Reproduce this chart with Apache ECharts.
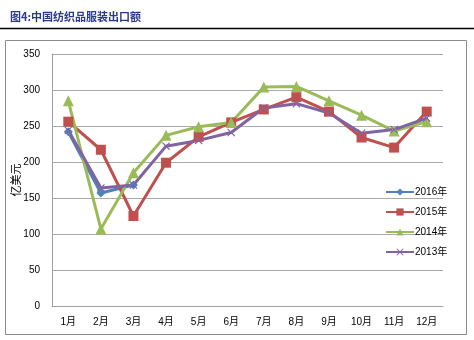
<!DOCTYPE html>
<html>
<head>
<meta charset="utf-8">
<script src="https://cdn.jsdelivr.net/npm/echarts@6/dist/echarts.min.js"></script>
<style>
html,body{margin:0;padding:0;background:#fff;}
#c{width:474px;height:340px;}
</style>
</head>
<body>
<div id="c"></div>
<script>
var categories = ['1月','2月','3月','4月','5月','6月','7月','8月','9月','10月','11月','12月'];
var s2016 = [242, 157, 168];
var s2015 = [256, 217, 125, 199, 235, 255, 273, 290, 270, 234, 220, 270];
var s2014 = [285, 107, 185, 237, 249, 255, 304, 305, 285, 265, 243, 256];
var s2013 = [244, 164, 168, 222, 230, 241, 275, 281, 268, 240, 245, 261];
var yTicks = [0, 50, 100, 150, 200, 250, 300, 350];

var xSym = 'path://M0,1L1,0L5,4L9,0L10,1L6,5L10,9L9,10L5,6L1,10L0,9L4,5Z';
var font = '"Liberation Sans","Noto Sans CJK SC",sans-serif';

var chart = echarts.init(document.getElementById('c'), null, {renderer:'canvas'});
chart.setOption({
  animation: false,
  backgroundColor: '#fff',
  title: {
    text: '图4:中国纺织品服装出口额',
    left: 5, top: 6,
    textStyle: {fontSize: 11, fontWeight: 'bold', color: '#2B3B8A', fontFamily: '"Noto Sans CJK SC",sans-serif'}
  },
  graphic: [
    {type:'line', shape:{x1:0,y1:28.5,x2:474,y2:28.5}, style:{stroke:'#000', lineWidth:1.5}},
    {type:'rect', shape:{x:5.5,y:40.5,width:461,height:294}, style:{fill:'none', stroke:'#8c8c8c', lineWidth:1}, z:-1}
  ],
  grid: {left: 52, right: 31, top: 54, bottom: 34, containLabel: false, outerBoundsMode: 'none'},
  legend: {
    orient: 'vertical',
    left: 380, top: 182,
    itemWidth: 28, itemHeight: 9, itemGap: 10,
    textStyle: {fontSize: 10, color: '#000', fontFamily: font, padding:[0,0,0,-4]},
    data: ['2016年','2015年','2014年','2013年']
  },
  xAxis: {
    type: 'category',
    data: categories,
    boundaryGap: true,
    axisLine: {lineStyle: {color: '#a0a0a0', width: 1}},
    axisTick: {show: false},
    axisLabel: {fontSize: 10, color: '#000', fontFamily: font, margin: 11}
  },
  yAxis: {
    type: 'value',
    min: 0, max: 350, interval: 50,
    name: '亿美元',
    nameLocation: 'middle',
    nameGap: 31,
    nameMoveOverlap: false,
    nameRotate: 90,
    nameTextStyle: {fontSize: 11, color: '#000', fontFamily: '"Noto Sans CJK SC",sans-serif'},
    axisLine: {show: true, lineStyle: {color: '#a0a0a0', width: 1}},
    axisTick: {show: false},
    axisLabel: {fontSize: 10, color: '#000', fontFamily: font, margin: 12,
      formatter: function(v){ return yTicks.indexOf(v) >= 0 ? String(v) : ''; }},
    splitLine: {lineStyle: {color: '#aaaaaa', width: 1}}
  },
  series: [
    {name:'2016年', type:'line', data:s2016, symbol:'diamond', symbolSize:9,
     lineStyle:{width:3,color:'#4F81BD'}, itemStyle:{color:'#4F81BD'}},
    {name:'2015年', type:'line', data:s2015, symbol:'rect', symbolSize:10,
     lineStyle:{width:3,color:'#C0504D'}, itemStyle:{color:'#C0504D'}},
    {name:'2014年', type:'line', data:s2014, symbol:'triangle', symbolSize:11,
     lineStyle:{width:3,color:'#9BBB59'}, itemStyle:{color:'#9BBB59'}},
    {name:'2013年', type:'line', data:s2013, symbol:xSym, symbolSize:8,
     lineStyle:{width:3,color:'#8064A2'}, itemStyle:{color:'#8064A2'}}
  ]
});
</script>
</body>
</html>
